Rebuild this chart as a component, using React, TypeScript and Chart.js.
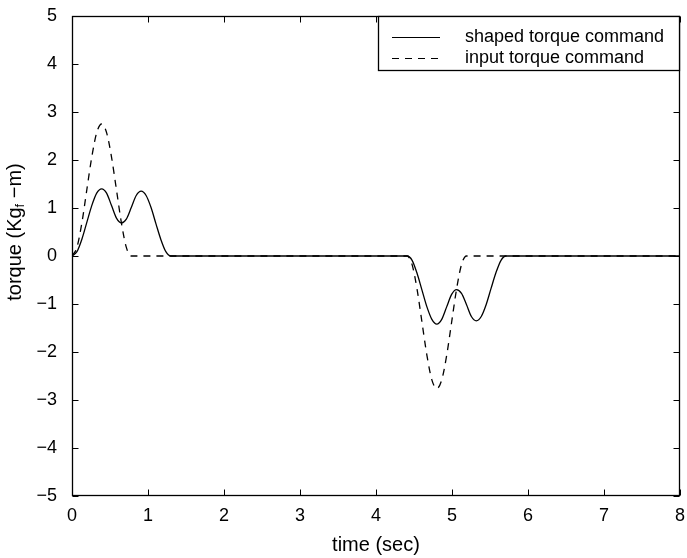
import React, { useEffect, useRef } from "react";
import { Chart, registerables } from "chart.js";
Chart.register(...registerables);

// ---- data ----
const inputTime = [
  0, 0.065, 0.13, 0.195, 0.26, 0.325, 0.39, 0.455, 0.52, 0.585, 0.65, 0.715, 0.78,
  4.41, 4.475, 4.54, 4.605, 4.67, 4.735, 4.8, 4.865, 4.93, 4.995, 5.06, 5.125, 5.19,
  8,
];
const inputTorque = [
  0, 0.18, 0.69, 1.38, 2.06, 2.57, 2.75, 2.57, 2.06, 1.38, 0.69, 0.18, 0,
  0, -0.18, -0.69, -1.38, -2.07, -2.58, -2.76, -2.58, -2.07, -1.38, -0.69, -0.18, 0,
  0,
];
const shapedTime = [
  0, 0.065, 0.13, 0.195, 0.26, 0.325, 0.39, 0.455, 0.52, 0.585, 0.65, 0.715, 0.78, 0.845,
  0.91, 0.975, 1.04, 1.105, 1.17, 1.235, 1.3,
  4.41, 4.475, 4.54, 4.605, 4.67, 4.735, 4.8, 4.865, 4.93, 4.995, 5.06, 5.125, 5.19, 5.255,
  5.32, 5.385, 5.45, 5.515, 5.58, 5.645, 5.71,
  8,
];
const shapedTorque = [
  0, 0.09, 0.35, 0.7, 1.05, 1.31, 1.4, 1.31, 1.05, 0.79, 0.69, 0.77, 1.01, 1.26,
  1.35, 1.26, 1.01, 0.67, 0.34, 0.09, 0,
  0, -0.09, -0.36, -0.71, -1.06, -1.32, -1.42, -1.32, -1.06, -0.8, -0.7, -0.78, -1.01, -1.26,
  -1.35, -1.26, -1.01, -0.67, -0.34, -0.09, 0,
  0,
];
const xTicks = [0, 1, 2, 3, 4, 5, 6, 7, 8];
const yTicks = [-5, -4, -3, -2, -1, 0, 1, 2, 3, 4, 5];
const seriesLabels = ["shaped torque command", "input torque command"];
const xTitle = "time (sec)";
const yTitleParts = ["torque (Kg", "f", " \u2212m)"];

const FONT = "'Liberation Sans', Arial, Helvetica, sans-serif";

const decorPlugin = {
  id: "decor",
  afterDraw(chart: any) {
    const { ctx, chartArea: a, scales } = chart;
    const xs = scales.x;
    const ys = scales.y;
    ctx.save();
    ctx.strokeStyle = "#000";
    ctx.fillStyle = "#000";
    ctx.setLineDash([]);
    const L = Math.round(xs.getPixelForValue(xTicks[0])) + 0.5;
    const R = Math.round(xs.getPixelForValue(xTicks[xTicks.length - 1])) - 0.5;
    const T = Math.round(ys.getPixelForValue(yTicks[yTicks.length - 1])) + 0.5;
    const B = Math.round(ys.getPixelForValue(yTicks[0])) - 0.5;
    ctx.lineWidth = 1.3;
    ctx.strokeRect(L, T, R - L, B - T);
    ctx.lineWidth = 1;
    const tl = 6;
    ctx.beginPath();
    xTicks.forEach((v) => {
      const px = Math.round(xs.getPixelForValue(v)) + 0.5;
      ctx.moveTo(px, B);
      ctx.lineTo(px, B - tl);
      ctx.moveTo(px, T);
      ctx.lineTo(px, T + tl);
    });
    yTicks.forEach((v) => {
      const py = Math.round(ys.getPixelForValue(v)) + 0.5;
      ctx.moveTo(L, py);
      ctx.lineTo(L + tl, py);
      ctx.moveTo(R, py);
      ctx.lineTo(R - tl, py);
    });
    ctx.stroke();

    // legend
    const lx0 = 378.5, lx1 = R, ly0 = T, ly1 = 70.5;
    ctx.fillStyle = "#fff";
    ctx.fillRect(lx0, ly0, lx1 - lx0, ly1 - ly0);
    ctx.lineWidth = 1.3;
    ctx.strokeRect(lx0, ly0, lx1 - lx0, ly1 - ly0);
    ctx.fillStyle = "#000";
    ctx.font = `18px ${FONT}`;
    ctx.textBaseline = "middle";
    ctx.textAlign = "left";
    const rows = [37, 58];
    ctx.lineWidth = 1.2;
    rows.forEach((ry, i) => {
      ctx.setLineDash(i === 0 ? [] : [7, 6]);
      ctx.beginPath();
      ctx.moveTo(392, ry + 0.5);
      ctx.lineTo(440, ry + 0.5);
      ctx.stroke();
      ctx.fillText(seriesLabels[i], 465, ry);
    });
    ctx.setLineDash([]);

    // x title
    ctx.font = `20px ${FONT}`;
    ctx.textAlign = "center";
    ctx.textBaseline = "middle";
    ctx.fillText(xTitle, (L + R) / 2, 545);

    // y title with subscript
    ctx.translate(15, 232);
    ctx.rotate(-Math.PI / 2);
    ctx.textAlign = "left";
    ctx.textBaseline = "middle";
    const big = `20px ${FONT}`;
    const small = `13px ${FONT}`;
    ctx.font = big;
    const w0 = ctx.measureText(yTitleParts[0]).width;
    const w2 = ctx.measureText(yTitleParts[2]).width;
    ctx.font = small;
    const w1 = ctx.measureText(yTitleParts[1]).width;
    const total = w0 + w1 + w2;
    let cx = -total / 2;
    ctx.font = big;
    ctx.fillText(yTitleParts[0], cx, 0);
    cx += w0;
    ctx.font = small;
    ctx.fillText(yTitleParts[1], cx, 5);
    cx += w1;
    ctx.font = big;
    ctx.fillText(yTitleParts[2], cx, 0);
    ctx.restore();
  },
};

export default function App() {
  const ref = useRef<HTMLCanvasElement>(null);
  useEffect(() => {
    if (!ref.current) return;
    const chart = new Chart(ref.current, {
      type: "line",
      data: {
        datasets: [
          {
            label: seriesLabels[0],
            data: shapedTime.map((x, i) => ({ x, y: shapedTorque[i] })),
            borderColor: "#000",
            borderWidth: 1.3,
            pointRadius: 0,
            cubicInterpolationMode: "monotone",
            fill: false,
          },
          {
            label: seriesLabels[1],
            data: inputTime.map((x, i) => ({ x, y: inputTorque[i] })),
            borderColor: "#000",
            borderWidth: 1.3,
            borderDash: [7, 6],
            pointRadius: 0,
            cubicInterpolationMode: "monotone",
            fill: false,
          },
        ],
      },
      options: {
        animation: false,
        responsive: false,
        events: [],
        layout: { padding: { top: 16, right: 7, left: 0, bottom: 0 } },
        plugins: { legend: { display: false }, tooltip: { enabled: false } },
        scales: {
          x: {
            type: "linear",
            min: 0,
            max: 8,
            afterBuildTicks: (s: any) => {
              s.ticks = xTicks.map((v) => ({ value: v }));
            },
            afterFit: (s: any) => {
              s.height = 62;
              s.paddingLeft = 0;
              s.paddingRight = 0;
            },
            grid: { display: false, drawTicks: false, tickLength: 0 },
            border: { display: false },
            ticks: {
              color: "#000",
              font: { family: FONT, size: 18 },
              padding: 9,
              maxRotation: 0,
              autoSkip: false,
              callback: (v: any) => String(v),
            },
          },
          y: {
            type: "linear",
            min: -5,
            max: 5,
            afterBuildTicks: (s: any) => {
              s.ticks = yTicks.map((v) => ({ value: v }));
            },
            afterFit: (s: any) => {
              s.width = 72;
              s.paddingTop = 0;
              s.paddingBottom = 0;
            },
            grid: { display: false, drawTicks: false, tickLength: 0 },
            border: { display: false },
            ticks: {
              color: "#000",
              font: { family: FONT, size: 18 },
              padding: 15,
              autoSkip: false,
              callback: (v: any) => (v < 0 ? "\u2212" + Math.abs(v) : String(v)),
            },
          },
        },
      },
      plugins: [decorPlugin],
    });
    return () => chart.destroy();
  }, []);
  return (
    <div style={{ position: "absolute", left: 0, top: 0, width: 687, height: 558, background: "#fff" }}>
      <canvas ref={ref} width={687} height={558} style={{ display: "block" }} />
    </div>
  );
}
